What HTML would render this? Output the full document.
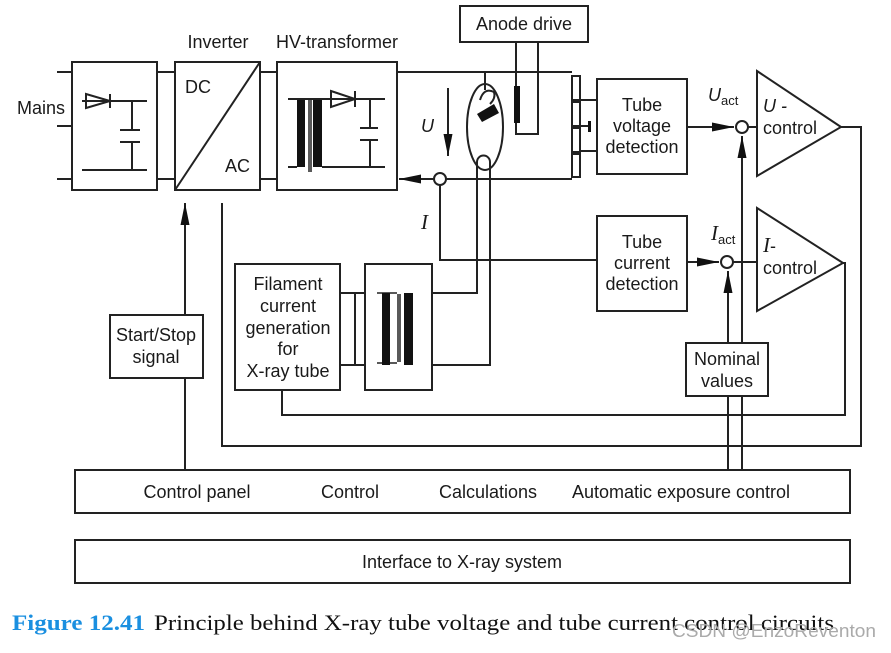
<!DOCTYPE html>
<html><head><meta charset="utf-8"><style>
body{margin:0;background:#fff;width:891px;height:648px;overflow:hidden}
svg text{font-family:"Liberation Sans",sans-serif;fill:#1a1a1a}
</style></head><body>
<svg width="891" height="648" viewBox="0 0 891 648" xmlns="http://www.w3.org/2000/svg">
<defs>
<marker id="b" viewBox="0 0 20 10" refX="20" refY="5" markerWidth="22" markerHeight="9" orient="auto" markerUnits="userSpaceOnUse" preserveAspectRatio="none"><path d="M0,0L20,5L0,10z" fill="#111"/></marker></defs>
<g stroke="#222" stroke-width="2" fill="none">
<path d="M57,72H72M57,126H72M57,179H72"/>
<rect x="72" y="62" width="85" height="128"/>
<path d="M82,101H147M82,170H147M132,101V130M132,142V170M120,130H140M120,142H140M110,94V108"/>
<path d="M86,94L110,101L86,108z"/>
<path d="M157,72H175M157,179H175M260,72H277M260,179H277"/>
<rect x="175" y="62" width="85" height="128"/>
<path d="M175,190L260,62"/>
<rect x="277" y="62" width="120" height="128"/>
<path d="M288,99H385M322,167H385M288,167H297M370,99V128M370,140V167M360,128H378M360,140H378M355,91V107"/>
<path d="M331,91L355,99L331,107z"/>
<path d="M309,100V172M311,100V172" stroke-width="1.5"/>
<path d="M397,72H572M572,179H446"/>
<path d="M434,179H399" marker-end="url(#b)"/>
<circle cx="440" cy="179" r="6"/>
<path d="M440,185V260H597"/>
<path d="M448,88V156" marker-end="url(#b)"/>
<ellipse cx="485" cy="127" rx="18" ry="43"/>
<path d="M485,72V90"/>
<path d="M477,193V293H432M490,193V365H432"/>
<path d="M477,193V162A6.5,6.5 0 0 1 490,162V193"/>
<path d="M480,100Q484,87 494,92Q496,98 490,104"/>
<rect x="460" y="6" width="128" height="36"/>
<path d="M516,42V86M538,42V134H516V123"/>
<rect x="572" y="76" width="8" height="24"/><rect x="572" y="102" width="8" height="24"/><rect x="572" y="128" width="8" height="24"/><rect x="572" y="154" width="8" height="23"/>
<path d="M580,100H597M580,151H597M580,126H590"/>
<rect x="597" y="79" width="90" height="95"/>
<path d="M687,127H734" marker-end="url(#b)"/>
<circle cx="742" cy="127" r="6"/>
<path d="M748,127H757"/>
<path d="M757,71L841,127L757,176z"/>
<path d="M841,127H861V446H222V203"/>
<path d="M742,470V136" marker-end="url(#b)"/>
<rect x="597" y="216" width="90" height="95"/>
<path d="M687,262H719" marker-end="url(#b)"/>
<circle cx="727" cy="262" r="6"/>
<path d="M733,262H757"/>
<path d="M757,208L843,263L757,311z"/>
<path d="M843,263H845V415H282V390"/>
<path d="M728,470V271" marker-end="url(#b)"/>
<rect x="686" y="343" width="82" height="53" fill="#fff"/>
<rect x="75" y="470" width="775" height="43"/>
<rect x="75" y="540" width="775" height="43"/>
<path d="M185,470V203" marker-end="url(#b)"/>
<rect x="110" y="315" width="93" height="63" fill="#fff"/>
<rect x="235" y="264" width="105" height="126"/>
<rect x="365" y="264" width="67" height="126"/>
<path d="M340,293H365M340,365H365M355,293V365"/>
<path d="M377,293H397M377,363H397M398,294V362M400,294V362" stroke-width="1.5"/>
</g>
<g fill="#111">
<rect x="514" y="86" width="6" height="37"/>
<rect x="588" y="121" width="3" height="11"/>
<rect x="297" y="100" width="8" height="67"/><rect x="313" y="100" width="9" height="67"/>
<rect x="382" y="293" width="8" height="72"/><rect x="404" y="293" width="9" height="72"/>
<path d="M477,114L494,104L499,113L482,122z"/>
</g>
<g font-size="18">
<text x="17" y="114">Mains</text>
<text x="218" y="48" text-anchor="middle">Inverter</text>
<text x="337" y="48" text-anchor="middle">HV-transformer</text>
<text x="185" y="93">DC</text>
<text x="225" y="172">AC</text>
<text x="524" y="30" text-anchor="middle">Anode drive</text>
<text x="642" y="111" text-anchor="middle">Tube</text>
<text x="642" y="132" text-anchor="middle">voltage</text>
<text x="642" y="153" text-anchor="middle">detection</text>
<text x="642" y="248" text-anchor="middle">Tube</text>
<text x="642" y="269" text-anchor="middle">current</text>
<text x="642" y="290" text-anchor="middle">detection</text>
<text x="763" y="134">control</text>
<text x="763" y="274">control</text>
<text x="727" y="365" text-anchor="middle">Nominal</text>
<text x="727" y="387" text-anchor="middle">values</text>
<text x="156" y="341" text-anchor="middle">Start/Stop</text>
<text x="156" y="363" text-anchor="middle">signal</text>
<text x="288" y="290" text-anchor="middle">Filament</text>
<text x="288" y="312" text-anchor="middle">current</text>
<text x="288" y="334" text-anchor="middle">generation</text>
<text x="288" y="355" text-anchor="middle">for</text>
<text x="288" y="377" text-anchor="middle">X-ray tube</text>
<text x="197" y="498" text-anchor="middle">Control panel</text>
<text x="350" y="498" text-anchor="middle">Control</text>
<text x="488" y="498" text-anchor="middle">Calculations</text>
<text x="681" y="498" text-anchor="middle">Automatic exposure control</text>
<text x="462" y="568" text-anchor="middle">Interface to X-ray system</text>
<text x="421" y="132" font-style="italic">U</text>
<text x="708" y="101" font-style="italic">U<tspan font-size="13" font-style="normal" dy="4">act</tspan></text>
<text x="763" y="112" font-style="italic">U -</text>
</g>
<g font-size="21" font-style="italic">
<text x="421" y="229" style="font-family:'Liberation Serif',serif">I</text>
<text x="711" y="240" style="font-family:'Liberation Serif',serif">I<tspan font-size="13" font-style="normal" dy="4" style="font-family:'Liberation Sans',sans-serif">act</tspan></text>
<text x="763" y="252" style="font-family:'Liberation Serif',serif">I<tspan font-style="normal" font-size="18" style="font-family:'Liberation Sans',sans-serif">-</tspan></text>
</g>
<text x="12" y="630" textLength="133" lengthAdjust="spacingAndGlyphs" style="font-family:'Liberation Serif',serif;font-size:22px;font-weight:bold;fill:#1a8fe0">Figure 12.41</text>
<text x="154" y="630" textLength="680" lengthAdjust="spacingAndGlyphs" style="font-family:'Liberation Serif',serif;font-size:22px;fill:#111">Principle behind X-ray tube voltage and tube current control circuits</text>
<text x="672" y="637" textLength="204" lengthAdjust="spacingAndGlyphs" style="font-size:18px;fill:#aaa">CSDN @EnzoReventon</text>
</svg>
</body></html>
